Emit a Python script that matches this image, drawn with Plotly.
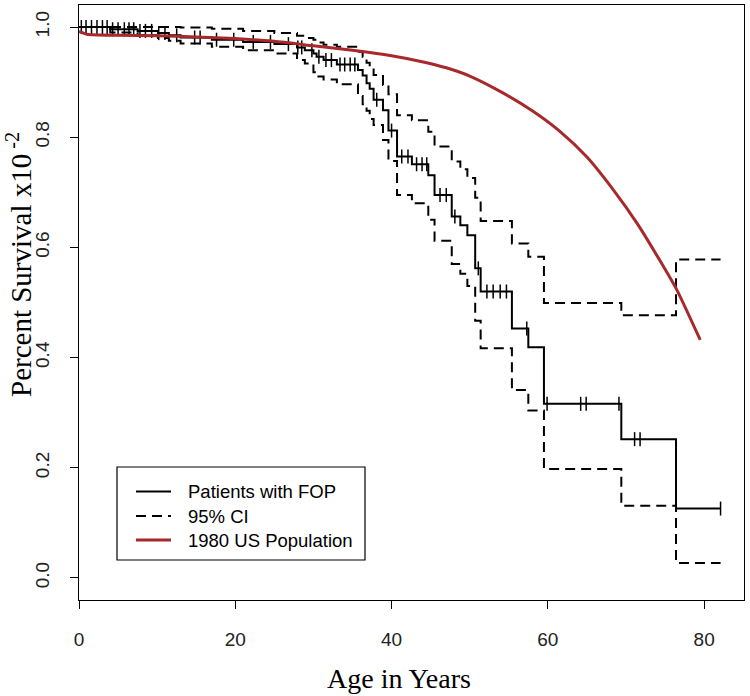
import numpy as np
import plotly.graph_objects as go

# ---- data ----
km_time = [0, 4.0, 7.5, 10.1, 11.5, 13.0, 17.0, 21.0, 25.0, 27.9, 28.9, 30.0, 30.4, 31.3,
           33.0, 35.7, 36.3, 36.8, 37.2, 37.7, 38.9, 39.6, 40.7, 42.6, 44.7, 45.5, 47.7,
           48.8, 49.7, 50.7, 51.4, 55.4, 57.5, 59.5, 69.4, 76.4]
km_surv = [1.0, 0.996, 0.993, 0.989, 0.985, 0.981, 0.977, 0.973, 0.969, 0.963, 0.958, 0.952,
           0.946, 0.940, 0.932, 0.922, 0.912, 0.898, 0.888, 0.868, 0.849, 0.812, 0.765, 0.751,
           0.731, 0.695, 0.656, 0.640, 0.622, 0.562, 0.520, 0.453, 0.419, 0.316, 0.252, 0.126]
ci_upper = [1.0, 1.0, 1.0, 1.0, 1.0, 0.999, 0.997, 0.993, 0.989, 0.984, 0.980, 0.977, 0.972,
            0.968, 0.964, 0.955, 0.946, 0.935, 0.925, 0.913, 0.895, 0.878, 0.840, 0.831,
            0.810, 0.783, 0.756, 0.742, 0.726, 0.690, 0.648, 0.607, 0.583, 0.499, 0.477, 0.578]
ci_lower = [1.0, 0.990, 0.985, 0.980, 0.975, 0.970, 0.964, 0.958, 0.952, 0.940, 0.934, 0.918,
            0.910, 0.905, 0.896, 0.875, 0.860, 0.848, 0.833, 0.822, 0.795, 0.757, 0.695, 0.680,
            0.650, 0.612, 0.570, 0.552, 0.530, 0.467, 0.417, 0.341, 0.304, 0.198, 0.131, 0.027]
km_end = 82.1

censor_time = [0.3, 0.9, 1.6, 2.3, 3.0, 3.6, 4.3, 5.0, 5.8, 6.4, 7.0, 7.8, 8.5, 9.3, 10.2,
               11.0, 12.5, 14.8, 15.5, 17.6, 19.8, 22.3, 24.5, 26.8, 28.0, 28.5, 29.8, 30.7,
               31.6, 32.3, 33.4, 34.0, 34.7, 35.3, 38.1, 40.0, 41.3, 42.1, 43.2, 43.9, 44.5,
               46.2, 47.0, 48.1, 51.1, 52.2, 53.0, 53.9, 54.7, 57.3, 59.9, 64.2, 64.9, 69.1,
               71.1, 71.8, 82.1]

pop_age = [0, 1, 5, 10, 15, 20, 25, 30, 35, 40, 43.6, 47, 50, 54.3, 58.1, 61.5, 65.0, 68.4,
           71.4, 74.3, 76.5, 79.5]
pop_surv = [0.992, 0.987, 0.985, 0.984, 0.982, 0.979, 0.974, 0.966, 0.958, 0.948, 0.938,
            0.926, 0.911, 0.880, 0.847, 0.811, 0.764, 0.704, 0.644, 0.577, 0.523, 0.432]

x_ticks = [0, 20, 40, 60, 80]
y_ticks = [0.0, 0.2, 0.4, 0.6, 0.8, 1.0]

legend_labels = ["Patients with FOP", "95% CI", "1980 US Population"]

# ---- build step series ----
def step(vals):
    return list(km_time) + [km_end], list(vals) + [vals[-1]]

idx = np.searchsorted(np.array(km_time), np.array(censor_time), side="right") - 1
censor_surv = np.array(km_surv)[idx]

RED = "#a8292b"
fig = go.Figure()
for vals in (ci_upper, ci_lower):
    sx, sy = step(vals)
    fig.add_trace(go.Scatter(x=sx, y=sy, mode="lines", line=dict(shape="hv", color="black",
                             width=2, dash="10px,6px"), showlegend=False, hoverinfo="skip"))
sx, sy = step(km_surv)
fig.add_trace(go.Scatter(x=sx, y=sy, mode="lines", line=dict(shape="hv", color="black", width=2),
                         showlegend=False))
fig.add_trace(go.Scatter(x=censor_time, y=censor_surv, mode="markers",
                         marker=dict(symbol="line-ns", size=10, line=dict(color="black", width=1.5)),
                         showlegend=False))
fig.add_trace(go.Scatter(x=pop_age, y=pop_surv, mode="lines",
                         line=dict(color=RED, width=3, shape="spline", smoothing=0.6),
                         showlegend=False))

# ---- manual legend (R style box) ----
W0, W1, T0, B0 = 79, 744, 5, 600
def px(x):
    return (x - W0) / (W1 - W0)
def py(y):
    return (B0 - y) / (B0 - T0)

fig.add_shape(type="rect", xref="paper", yref="paper", x0=px(117), x1=px(365), y0=py(560), y1=py(467),
              line=dict(color="black", width=1.2), fillcolor="white", layer="above")
rows = [491.5, 516, 540]
styles = [dict(color="black", width=2), dict(color="black", width=2, dash="10px,6px"),
          dict(color=RED, width=3)]
for lab, ry, st in zip(legend_labels, rows, styles):
    fig.add_shape(type="line", xref="paper", yref="paper", x0=px(136), x1=px(171), y0=py(ry), y1=py(ry),
                  line=st, layer="above")
    fig.add_annotation(xref="paper", yref="paper", x=px(186), y=py(ry), text=lab, showarrow=False,
                       xanchor="left", yanchor="middle",
                       font=dict(family="Liberation Sans, Arial", size=18.5, color="black"))

fig.add_annotation(xref="paper", yref="paper", x=px(399), y=py(678), text="Age in Years",
                   showarrow=False, xanchor="center", yanchor="middle",
                   font=dict(family="Liberation Serif, Times New Roman", size=28, color="black"))
fig.add_annotation(xref="paper", yref="paper", x=px(19), y=py(265),
                   text="Percent Survival x10<sup>&nbsp;-2</sup>", textangle=-90,
                   showarrow=False, xanchor="center", yanchor="middle",
                   font=dict(family="Liberation Serif, Times New Roman", size=29, color="black"))

tickfont = dict(family="Liberation Sans, Arial", size=19, color="#222")
fig.update_layout(
    width=750, height=696,
    margin=dict(l=W0, r=750 - W1, t=T0, b=696 - B0, autoexpand=False),
    plot_bgcolor="white", paper_bgcolor="white",
    xaxis=dict(range=[0, 85.1], tickvals=x_ticks, ticks="outside", ticklen=8, tickcolor="black",
               showline=True, linecolor="black", linewidth=1.2, mirror=True, showgrid=False,
               zeroline=False, tickfont=tickfont, ticklabelstandoff=14, automargin=False),
    yaxis=dict(range=[-0.04, 1.04], tickvals=y_ticks, tickformat=".1f", ticks="outside", ticklen=8,
               tickcolor="black", showline=True, linecolor="black", linewidth=1.2, mirror=True,
               showgrid=False, zeroline=False, tickfont=tickfont, tickangle=-90,
               ticklabelstandoff=13, automargin=False),
    showlegend=False,
)
fig.write_html("out.html", config={"displayModeBar": False},
               post_script="document.body.style.margin='0px';")
